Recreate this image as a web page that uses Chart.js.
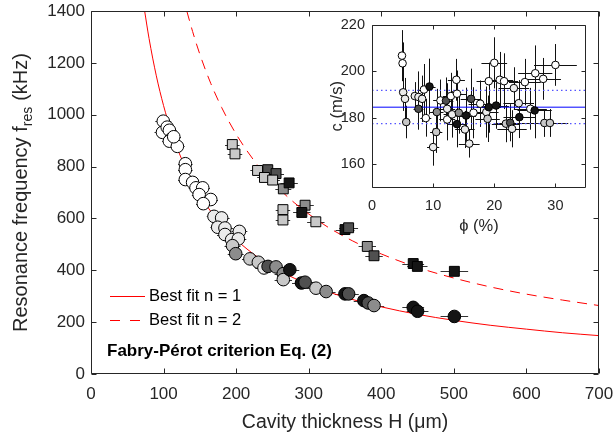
<!DOCTYPE html>
<html>
<head>
<meta charset="utf-8">
<script src="https://cdn.jsdelivr.net/npm/chart.js@4.4.1/dist/chart.umd.min.js"></script>
<style>
body{margin:0;background:#fff}
#wrap{position:relative;width:615px;height:435px}
#main{position:absolute;left:0;top:0}
#inset{position:absolute;left:325px;top:15px}
</style>
</head>
<body>
<div id="wrap">
<canvas id="main" width="615" height="435"></canvas>
<canvas id="inset" width="275" height="225"></canvas>
</div>
<script>
// n = 1 branch (circles): thickness (um), frequency (kHz), error on H, grey level
const circH=[99.6,98.5,105,108,110,108,119,114,130,130,130,140,144.7,153.9,149,165,154.8,169.5,180,174.6,184.6,184.6,193.8,204.4,203,195,199.4,219,230.6,238.4,244,255,265,265,274,290,295,310,324,350,355,376,382,390,444,450,500.7]
const circF=[975,932,952,940,905,898,878,915,811,788,750,739,718,718,692,673,657,608,602,566,563,538,518,550,521,495,464,444,431,409,415,413,387,364,402,351,354,331,318,309,309,283,274,264,257,242,222]
const circErr=[11,11,10,10,10,10,10,10,10,10,10,10,10,10,10,10,10,10,11,10,11,11,11,11,11,11,11,11,11,12,12,12,12,12,13,13,13,13,13,14,14,14,14,14,15,15,19]
const circShade=[0,0,0,0,0,0,0,0,0,0,0,0,0,0,0,0,0,1,1,1,1,1,1,1,1,2,3,2,2,1,4,3,3,2,5,5,4,2,3,5,4,5,4,3,5,5,5]

// n = 2 branch (squares)
const sqH=[194.7,198.4,229.5,243.6,255,239,250.3,265,273,264.5,264.5,295,290.5,309.8,350,355,380.7,390,444,449.7,500.7]
const sqF=[885,849,785,788,773,758,748,714,737,634,594,651,623,587,557,564,492,456,426,415,396]
const sqErr=[10,10,10,11,11,10,10,11,12,10,10,12,12,12,13,13,12,12,15,14,19]
const sqShade=[2,2,2,4,4,2,2,3,5,2,2,3,5,2,5,4,3,4,5,5,5]

// best fit curves
const fit1H=[73.9,80,90,100,110,125,140,160,180,200,230,260,300,350,400,450,500,550,600,650,700]
const fit1F=[1400,1294,1150,1035,941,828,739,647,575,518,450,398,345,296,259,230,207,188,173,159,148]
const fit2H=[132,140,150,165,180,200,225,250,280,320,360,400,450,500,550,600,650,700]
const fit2F=[1400,1321,1233,1121,1028,925,822,740,661,578,514,463,411,370,336,308,285,264]

// inset: porosity (%), sound speed (m/s), errors, grey level
const phiVal=[4.9,5.0,5.1,5.4,5.6,7.0,7.6,7.6,8.2,8.5,8.8,9.4,10.0,10.5,10.6,11.2,12.1,12.3,12.3,12.9,13.1,13.8,13.9,13.9,14.2,15.2,15.4,15.9,16.2,16.6,17.7,18.7,18.9,19.1,19.1,20.0,20.3,20.9,21.6,21.9,22.6,22.9,23.2,24.0,24.1,25.0,25.9,26.6,26.7,28.0,28.2,29.1,30.0]
const cVal=[206.8,203.5,191,188.2,178.2,189.4,189,183.9,188.2,192.2,179.9,193.5,167.4,173.9,182.5,187.5,187.4,183.9,179.3,189.4,181.5,196.4,190.4,177.3,182.2,175,181,168.9,188.2,182.2,186.1,182.5,179.6,195.8,184.6,203.7,185.3,196.4,195.8,177.5,177.9,175.3,192.8,186.3,180.3,195.4,183.9,183.2,199.2,196.8,177.8,177.8,202.8]
const phiErr=[0.3,0.3,0.3,0.4,0.4,0.6,0.7,0.8,0.8,0.8,0.9,1.0,1.0,1.0,1.1,1.2,1.2,1.3,1.3,1.3,1.4,1.4,1.5,1.5,1.5,1.6,1.6,1.7,1.7,1.8,1.9,2.0,2.0,2.0,2.0,2.1,2.1,2.2,2.3,2.3,2.4,2.4,2.5,2.5,2.6,2.6,2.7,2.8,2.8,2.9,3.0,3.0,3.5]
const cErr=[11,9,8,9,7,6,11,9,10,11,8,12,8,9,10,9,10,11,9,10,10,9,10,10,9,8,12,6,13,11,10,11,10,8,11,11,10,12,12,8,8,8,9,10,9,10,9,12,12,9,6,6,9]
const phiShade=[0,0,1,1,2,1,1,4,1,0,0,5,1,2,3,0,4,1,0,0,1,0,0,5,3,1,5,1,4,0,0,1,2,0,5,0,5,0,0,2,4,1,1,1,5,0,0,5,0,0,2,2,0]
const cMean=184.6
const cBand=[177.5,191.8]

const xTicksMain=[0,100,200,300,400,500,600,700]
const yTicksMain=[0,200,400,600,800,1000,1200,1400]
const xTicksInset=[0,10,20,30]
const yTicksInset=[160,180,200,220]

const ink='#262626'
const shades=['#ffffff','#ebebeb','#c8c8c8','#8c8c8c','#505050','#151515']
const fam="'Liberation Sans', Arial, sans-serif"
Chart.defaults.font.family=fam
Chart.defaults.color=ink
Chart.defaults.animation=false

const pts=(xs,ys)=>xs.map((x,i)=>({x,y:ys[i]}))
const setTicks=list=>scale=>{scale.ticks=list.map(v=>({value:v}))}
const plain=v=>String(v)
function fixX(h){return s=>{s.height=h;s.paddingLeft=0;s.paddingRight=0}}
function fixY(w){return s=>{s.width=w;s.paddingTop=0;s.paddingBottom=0}}

const errorBars={
    id:'errorBars',
    beforeDatasetsDraw(chart,args,opts){
        const ctx=chart.ctx
        const xs=chart.scales.x, ys=chart.scales.y
        ctx.save()
        ctx.strokeStyle=opts.color||ink
        ctx.lineWidth=1
        for(let ds of chart.data.datasets){
            if(!ds.errX) continue
            ds.data.forEach((p,i)=>{
                ctx.beginPath()
                const px=Math.round(xs.getPixelForValue(p.x))+0.5, py=Math.round(ys.getPixelForValue(p.y))+0.5
                ctx.moveTo(xs.getPixelForValue(p.x-ds.errX[i]),py)
                ctx.lineTo(xs.getPixelForValue(p.x+ds.errX[i]),py)
                if(ds.errY){
                    ctx.moveTo(px,ys.getPixelForValue(p.y-ds.errY[i]))
                    ctx.lineTo(px,ys.getPixelForValue(p.y+ds.errY[i]))
                }
                ctx.stroke()
            })
        }
        ctx.restore()
    }
}

const frame={
    id:'frame',
    afterDatasetsDraw(chart,args,opts){
        const {ctx,chartArea:a}=chart
        const xs=chart.scales.x, ys=chart.scales.y
        const L=opts.tick||5
        const l=Math.round(a.left)+0.5, r=Math.round(a.right)-0.5
        const t=Math.round(a.top)+0.5, b=Math.round(a.bottom)-0.5
        ctx.save()
        ctx.strokeStyle=ink
        ctx.lineWidth=1
        ctx.beginPath()
        ctx.rect(l,t,r-l,b-t)
        for(let tk of xs.ticks){
            const px=Math.round(xs.getPixelForValue(tk.value))+0.5
            ctx.moveTo(px,b);ctx.lineTo(px,b-L)
            ctx.moveTo(px,t);ctx.lineTo(px,t+L)
        }
        for(let tk of ys.ticks){
            const py=Math.round(ys.getPixelForValue(tk.value))+0.5
            ctx.moveTo(l,py);ctx.lineTo(l+L,py)
            ctx.moveTo(r,py);ctx.lineTo(r-L,py)
        }
        ctx.stroke()
        ctx.restore()
    }
}

// legend, annotation and y title with subscript
const mainText={
    id:'mainText',
    afterDraw(chart){
        const ctx=chart.ctx
        ctx.save()
        ctx.strokeStyle='#ff0000'
        ctx.lineWidth=1
        ctx.beginPath();ctx.moveTo(110,296.5);ctx.lineTo(145,296.5);ctx.stroke()
        ctx.setLineDash([10,10])
        ctx.beginPath();ctx.moveTo(110,320.5);ctx.lineTo(145,320.5);ctx.stroke()
        ctx.setLineDash([])
        ctx.fillStyle='#000'
        ctx.textBaseline='middle'
        ctx.font='16.5px '+fam
        ctx.fillText('Best fit n = 1',149,296)
        ctx.fillText('Best fit n = 2',149,320)
        ctx.font='bold 17px '+fam
        ctx.fillText('Fabry-Pérot criterion Eq. (2)',107,351)

        const a=chart.chartArea
        ctx.translate(21,(a.top+a.bottom)/2)
        ctx.rotate(-Math.PI/2)
        ctx.fillStyle=ink
        const big='20px '+fam, small='14px '+fam
        const parts=[['Resonance frequency f',big,0,0],['res',small,7,6],['(kHz)',big,0,0]]
        let total=0
        for(let p of parts){ctx.font=p[1];total+=ctx.measureText(p[0]).width+p[3]}
        let x=-total/2
        for(let p of parts){
            ctx.font=p[1]
            ctx.fillText(p[0],x,p[2])
            x+=ctx.measureText(p[0]).width+p[3]
        }
        ctx.restore()
    }
}

new Chart(document.getElementById('main'),{
    type:'scatter',
    data:{
        datasets:[
            {
                data:pts(circH,circF),
                errX:circErr,
                pointStyle:'circle',
                pointRadius:6.3,
                borderWidth:1,
                borderColor:'#000',
                backgroundColor:circShade.map(s=>shades[s])
            },
            {
                data:pts(sqH,sqF),
                errX:sqErr,
                pointStyle:'rect',
                pointRadius:7,
                borderWidth:1,
                borderColor:'#000',
                backgroundColor:sqShade.map(s=>shades[s])
            },
            {
                data:pts(fit1H,fit1F),
                showLine:true,
                borderColor:'#ff0000',
                borderWidth:1,
                pointRadius:0,
                cubicInterpolationMode:'monotone'
            },
            {
                data:pts(fit2H,fit2F),
                showLine:true,
                borderColor:'#ff0000',
                borderWidth:1,
                borderDash:[10,7],
                pointRadius:0,
                cubicInterpolationMode:'monotone'
            }
        ]
    },
    options:{
        responsive:false,
        layout:{padding:{top:11,right:16,left:0,bottom:0}},
        plugins:{legend:{display:false},tooltip:{enabled:false},frame:{tick:5},errorBars:{color:'#333'}},
        scales:{
            x:{
                type:'linear',min:0,max:700,
                afterBuildTicks:setTicks(xTicksMain),
                afterFit:fixX(61),
                grid:{display:false,drawTicks:false},
                border:{display:false},
                ticks:{font:{size:17},padding:10,color:ink,callback:plain},
                title:{display:true,text:'Cavity thickness H (μm)',font:{size:19.5},padding:{bottom:1},color:ink}
            },
            y:{
                type:'linear',min:0,max:1400,
                afterBuildTicks:setTicks(yTicksMain),
                afterFit:fixY(91),
                grid:{display:false,drawTicks:false},
                border:{display:false},
                ticks:{font:{size:17},padding:6,color:ink,callback:plain}
            }
        }
    },
    plugins:[errorBars,frame,mainText]
})

new Chart(document.getElementById('inset'),{
    type:'scatter',
    data:{
        datasets:[
            {
                data:pts(phiVal,cVal),
                errX:phiErr,
                errY:cErr,
                pointStyle:'circle',
                pointRadius:3.8,
                borderWidth:1,
                borderColor:'#000',
                backgroundColor:phiShade.map(s=>shades[s])
            },
            {
                data:[{x:0,y:cMean},{x:35,y:cMean}],
                showLine:true,borderColor:'#0000ff',borderWidth:1,pointRadius:0
            },
            {
                data:[{x:0,y:cBand[0]},{x:35,y:cBand[0]}],
                showLine:true,borderColor:'#5555ff',borderWidth:1.2,borderDash:[1.5,3],pointRadius:0
            },
            {
                data:[{x:0,y:cBand[1]},{x:35,y:cBand[1]}],
                showLine:true,borderColor:'#5555ff',borderWidth:1.2,borderDash:[1.5,3],pointRadius:0
            }
        ]
    },
    options:{
        responsive:false,
        layout:{padding:{top:10,right:14,left:0,bottom:0}},
        plugins:{legend:{display:false},tooltip:{enabled:false},frame:{tick:4},errorBars:{color:'#111'}},
        scales:{
            x:{
                type:'linear',min:0,max:35,
                afterBuildTicks:setTicks(xTicksInset),
                afterFit:fixX(52.5),
                grid:{display:false,drawTicks:false},
                border:{display:false},
                ticks:{font:{size:14.5},padding:10,color:ink,callback:plain},
                title:{display:true,text:'ϕ (%)',font:{size:16.5},padding:{bottom:4},color:ink}
            },
            y:{
                type:'linear',min:150,max:220,
                afterBuildTicks:setTicks(yTicksInset),
                afterFit:fixY(47),
                grid:{display:false,drawTicks:false},
                border:{display:false},
                ticks:{font:{size:14.5},padding:7,color:ink,callback:plain},
                title:{display:true,text:'c (m/s)',font:{size:16.5},padding:{top:3},color:ink}
            }
        }
    },
    plugins:[errorBars,frame]
})
</script>
</body>
</html>
